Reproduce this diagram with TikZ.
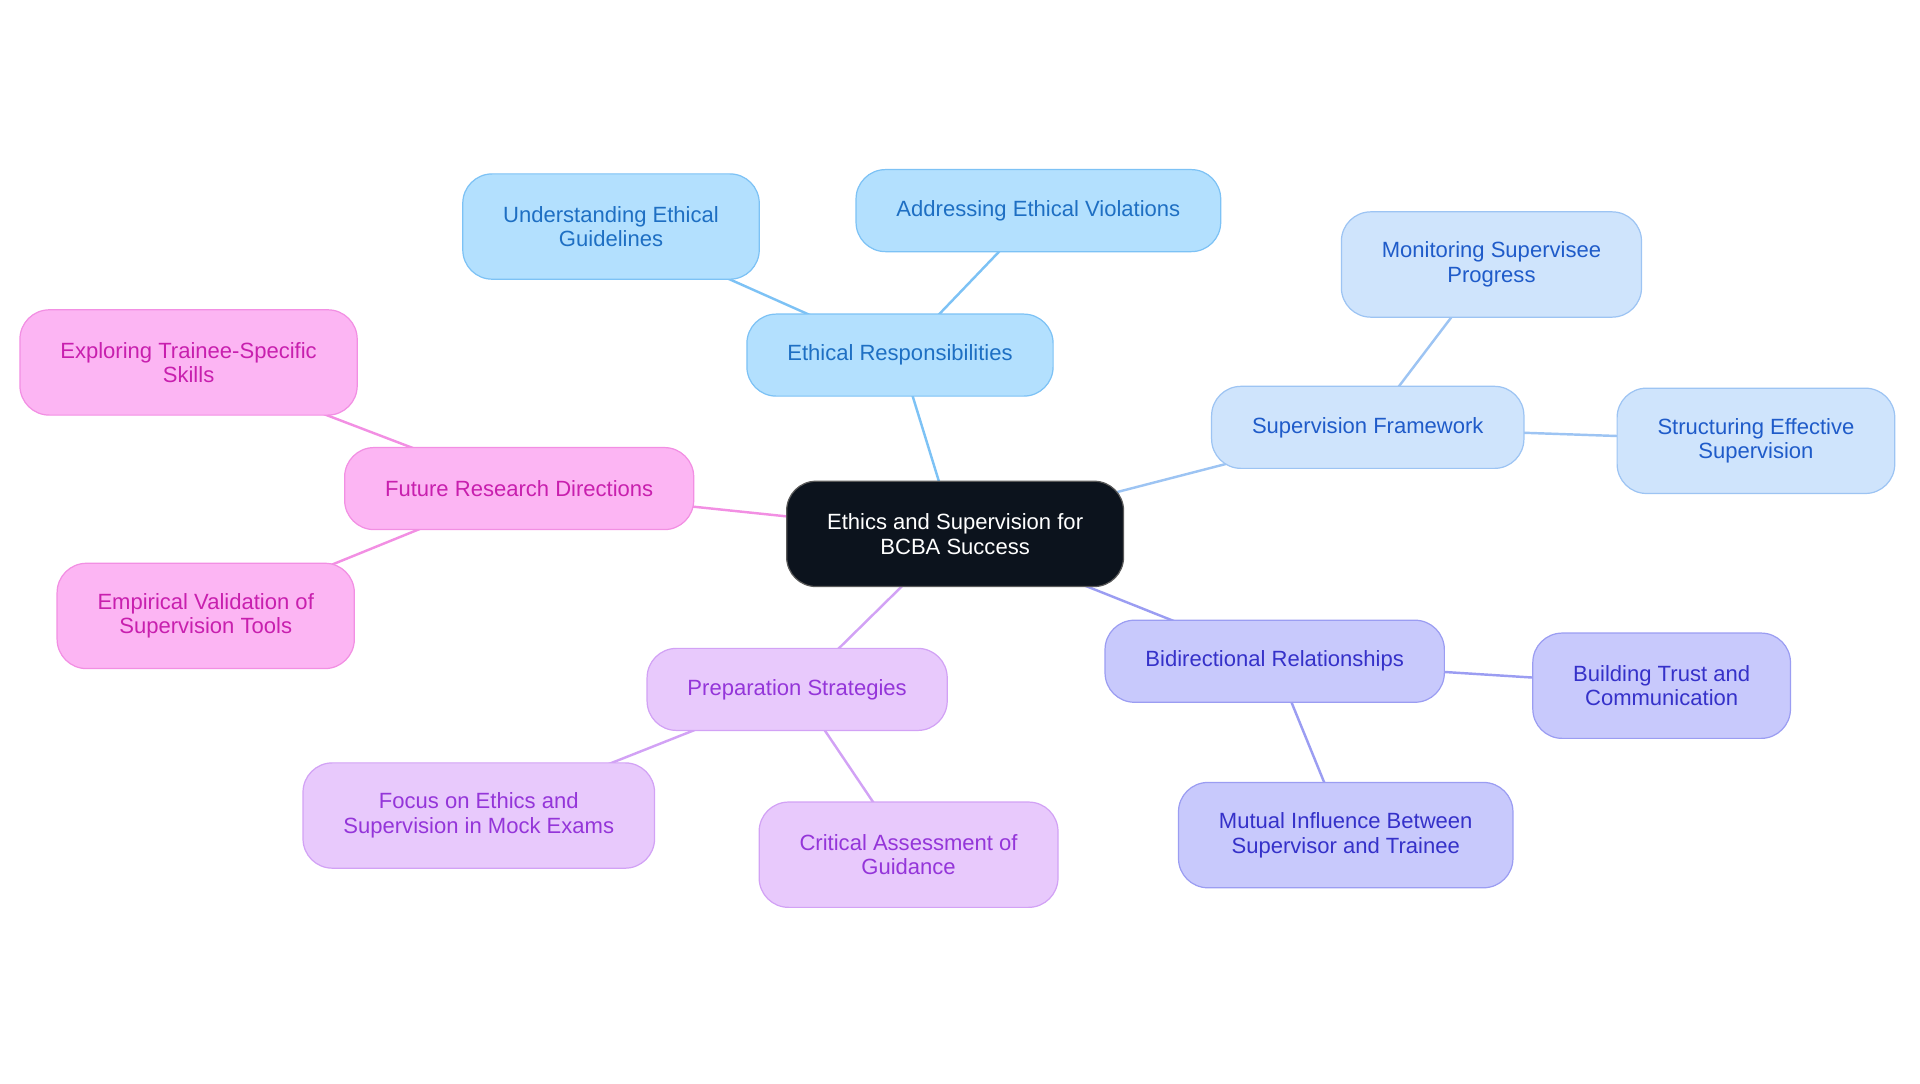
\documentclass[tikz,border=0pt]{standalone}
\usepackage{fontspec}
\setmainfont{Liberation Sans}
\usetikzlibrary{backgrounds}

\definecolor{rootfill}{HTML}{0C131D}
\definecolor{ethfill}{HTML}{B3E0FE}
\definecolor{ethdraw}{HTML}{7DC2F5}
\definecolor{ethtext}{HTML}{1E6FC3}
\definecolor{supfill}{HTML}{CFE4FC}
\definecolor{supdraw}{HTML}{9DC4F3}
\definecolor{suptext}{HTML}{1F5BC9}
\definecolor{bidfill}{HTML}{C8C9FC}
\definecolor{biddraw}{HTML}{9B9DF2}
\definecolor{bidtext}{HTML}{3531C9}
\definecolor{prepfill}{HTML}{E8C9FC}
\definecolor{prepdraw}{HTML}{D2A2F5}
\definecolor{preptext}{HTML}{9435D9}
\definecolor{futfill}{HTML}{FCB5F3}
\definecolor{futdraw}{HTML}{F28FE3}
\definecolor{futtext}{HTML}{C81FAE}

\begin{document}
\begin{tikzpicture}[x=.5pt, y=-.5pt,
    box/.style={rounded corners=12pt, line width=.5pt, align=center, inner xsep=16.5pt, inner ysep=0pt, font=\fontsize{9}{10}\selectfont},
    one/.style={box, minimum height=33.5pt},
    two/.style={box, minimum height=43pt},
    root/.style={two, fill=rootfill, draw=gray!70!black, text=white},
    eth/.style={fill=ethfill, draw=ethdraw, text=ethtext},
    sup/.style={fill=supfill, draw=supdraw, text=suptext},
    bid/.style={fill=bidfill, draw=biddraw, text=bidtext},
    prep/.style={fill=prepfill, draw=prepdraw, text=preptext},
    fut/.style={fill=futfill, draw=futdraw, text=futtext},
    link/.style={line width=1pt}]
    \useasboundingbox (0, 0) rectangle (1568, 884.5);
    % centre
    \node[root] (core) at(780, 436){Ethics and Supervision for\\BCBA Success};
    % ethics branch
    \node[one, eth] (ethres) at(735, 290){Ethical Responsibilities};
    \node[two, eth] (ethguide) at(499, 185){Understanding Ethical\\Guidelines};
    \node[one, eth] (ethviol) at(848, 172){Addressing Ethical Violations};
    % supervision branch
    \node[one, sup] (supfw) at(1117, 349){Supervision Framework};
    \node[two, sup] (supmon) at(1218, 216){Monitoring Supervisee\\Progress};
    \node[two, sup] (supstr) at(1434, 360){Structuring Effective\\Supervision};
    % relationship branch
    \node[one, bid] (bidrel) at(1041, 540){Bidirectional Relationships};
    \node[two, bid] (bidtrust) at(1357, 560){Building Trust and\\Communication};
    \node[two, bid] (bidmut) at(1099, 682){Mutual Influence Between\\Supervisor and Trainee};
    % preparation branch
    \node[one, prep] (prepst) at(651, 563){Preparation Strategies};
    \node[two, prep] (prepmock) at(391, 666){Focus on Ethics and\\Supervision in Mock Exams};
    \node[two, prep] (prepcrit) at(742, 698){Critical Assessment of\\Guidance};
    % research branch
    \node[one, fut] (futres) at(424, 399){Future Research Directions};
    \node[two, fut] (futskill) at(154, 296){Exploring Trainee-Specific\\Skills};
    \node[two, fut] (futvalid) at(168, 503){Empirical Validation of\\Supervision Tools};
    % links run centre to centre, the boxes hide the rest
    \begin{scope}[on background layer]
        \draw[link, ethdraw](core.center)--(ethres.center);
        \draw[link, ethdraw](ethres.center)--(ethguide.center);
        \draw[link, ethdraw](ethres.center)--(ethviol.center);
        \draw[link, supdraw](core.center)--(supfw.center);
        \draw[link, supdraw](supfw.center)--(supmon.center);
        \draw[link, supdraw](supfw.center)--(supstr.center);
        \draw[link, biddraw](core.center)--(bidrel.center);
        \draw[link, biddraw](bidrel.center)--(bidtrust.center);
        \draw[link, biddraw](bidrel.center)--(bidmut.center);
        \draw[link, prepdraw](core.center)--(prepst.center);
        \draw[link, prepdraw](prepst.center)--(prepmock.center);
        \draw[link, prepdraw](prepst.center)--(prepcrit.center);
        \draw[link, futdraw](core.center)--(futres.center);
        \draw[link, futdraw](futres.center)--(futskill.center);
        \draw[link, futdraw](futres.center)--(futvalid.center);
    \end{scope}
\end{tikzpicture}
\end{document}
